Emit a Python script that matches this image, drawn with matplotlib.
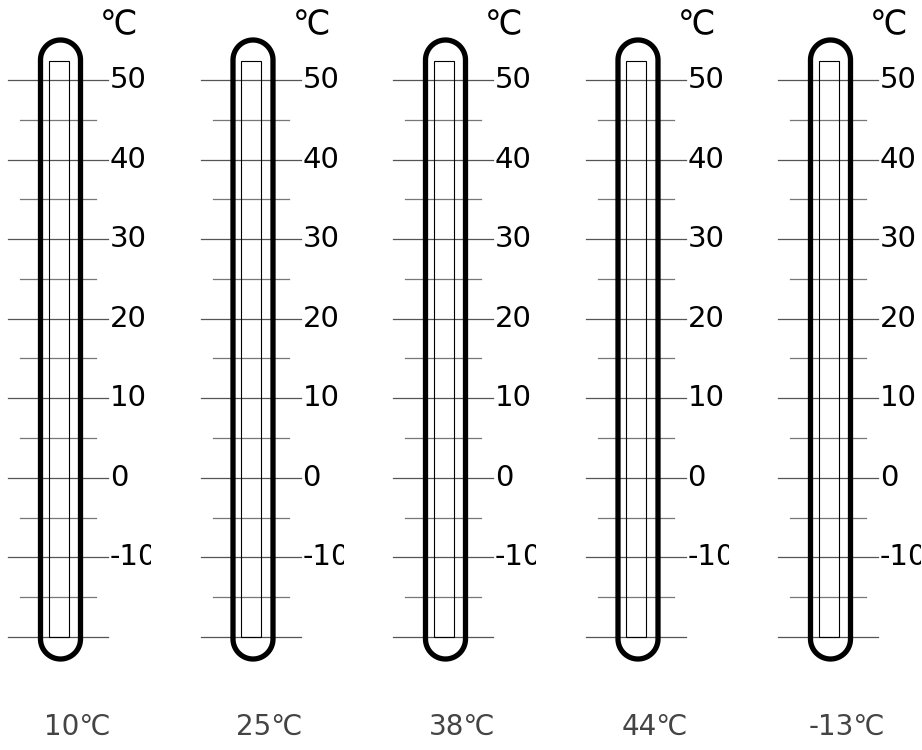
import numpy as np
import matplotlib
matplotlib.use("Agg")
import matplotlib.pyplot as plt
from matplotlib.patches import Rectangle, Polygon

# readings shown under each thermometer
temps = [10, 25, 38, 44, -13]
bottom_labels = ["10℃", "25℃", "38℃", "44℃", "-13℃"]
major_ticks = [50, 40, 30, 20, 10, 0, -10, -20]
major_labels = ["50", "40", "30", "20", "10", "0", "-10", ""]
minor_ticks = [45, 35, 25, 15, 5, -5, -15]

W, H = 922, 750
fig = plt.figure(figsize=(W / 100, H / 100), dpi=100)

y_top, y_bot = 60.05, -34.2          # temperature range of the full panel height
panel_w = 151                         # panel width in px (text is clipped here)
unit_y = (y_top - y_bot) / H          # degrees per pixel

for i, (t, lbl) in enumerate(zip(temps, bottom_labels)):
    left = i * 192.5
    ax = fig.add_axes([left / W, 0, panel_w / W, 1])
    ax.set_xlim(0, panel_w)
    ax.set_ylim(y_bot, y_top)
    ax.axis("off")

    # tick lines across the tube
    for v in major_ticks:
        ax.plot([8, 108], [v, v], color="#555555", lw=0.9, zorder=1)
    for v in minor_ticks:
        ax.plot([20, 96], [v, v], color="#777777", lw=0.9, zorder=1)
    for v, s in zip(major_ticks, major_labels):
        ax.text(110, v, s, fontsize=21, va="center", ha="left",
                color="black", clip_on=True)
    ax.text(100, y_top - 25 * unit_y, "℃", fontsize=24, va="center",
            ha="left", clip_on=True)

    # outer tube outline (stadium shape)
    r = 20
    cx = 60.5
    top_c = y_top - 60 * unit_y
    bot_c = y_top - 639 * unit_y
    th_top = np.linspace(0, np.pi, 60)
    th_bot = np.linspace(np.pi, 2 * np.pi, 60)
    xs = np.concatenate([cx + r * np.cos(th_top), cx + r * np.cos(th_bot)])
    ys = np.concatenate([top_c + r * unit_y * np.sin(th_top),
                         bot_c + r * unit_y * np.sin(th_bot)])
    ax.add_patch(Polygon(np.column_stack([xs, ys]), closed=True, fill=False,
                         ec="black", lw=3.8, joinstyle="round", zorder=3))

    # inner capillary
    ax.add_patch(Rectangle((48.5, -20), 20, 72.4, fill=False,
                           ec="black", lw=0.8, zorder=2))

    ax.text(77, y_top - 727 * unit_y, lbl, fontsize=20, color="#444444",
            ha="center", va="center")

fig.savefig("out.png", dpi=100)
